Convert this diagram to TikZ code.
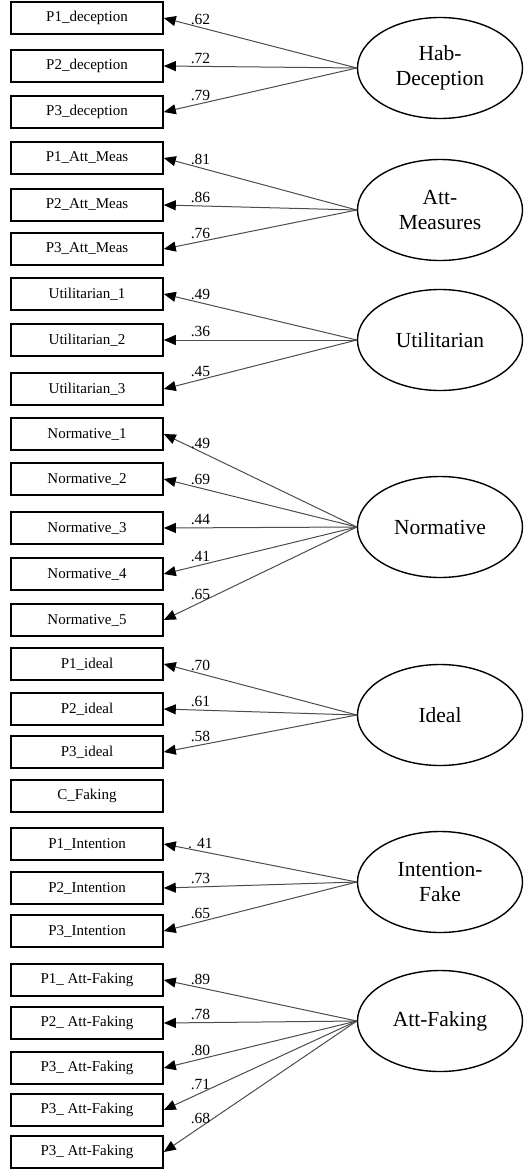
\documentclass[tikz,border=0pt]{standalone}
\usepackage{fontspec}
\setmainfont{Liberation Serif}
\usetikzlibrary{arrows.meta,shapes.geometric}

\begin{document}
\begin{tikzpicture}[x=1pt, y=-1pt,
        obs/.style={draw, line width=1.6pt, minimum width=152pt, minimum height=32pt, inner sep=0pt, font=\fontsize{15}{17}\selectfont},
        lat/.style={draw, ellipse, line width=1.4pt, minimum width=165pt, minimum height=101pt, inner sep=0pt, align=center, font=\fontsize{21.5}{25}\selectfont},
        load/.style={draw=black!70, line width=1pt, -{Triangle[length=12pt,width=10pt,color=black]}},
        lbl/.style={pos=0.81, above, inner sep=2.5pt, font=\fontsize{15.5}{17}\selectfont}]
        \useasboundingbox (0,0) rectangle (523,1169);
        % observed items
        \node[obs] (dec1) at (87,18) {P1\_deception};
        \node[obs] (dec2) at (87,66) {P2\_deception};
        \node[obs] (dec3) at (87,112) {P3\_deception};
        \node[obs] (meas1) at (87,158) {P1\_Att\_Meas};
        \node[obs] (meas2) at (87,205) {P2\_Att\_Meas};
        \node[obs] (meas3) at (87,249) {P3\_Att\_Meas};
        \node[obs] (util1) at (87,294) {Utilitarian\_1};
        \node[obs] (util2) at (87,340) {Utilitarian\_2};
        \node[obs] (util3) at (87,389) {Utilitarian\_3};
        \node[obs] (norm1) at (87,434) {Normative\_1};
        \node[obs] (norm2) at (87,479) {Normative\_2};
        \node[obs] (norm3) at (87,528) {Normative\_3};
        \node[obs] (norm4) at (87,574) {Normative\_4};
        \node[obs] (norm5) at (87,620) {Normative\_5};
        \node[obs] (ideal1) at (87,664) {P1\_ideal};
        \node[obs] (ideal2) at (87,709) {P2\_ideal};
        \node[obs] (ideal3) at (87,752) {P3\_ideal};
        \node[obs] (cfake) at (87,796) {C\_Faking};
        \node[obs] (int1) at (87,844) {P1\_Intention};
        \node[obs] (int2) at (87,888) {P2\_Intention};
        \node[obs] (int3) at (87,931) {P3\_Intention};
        \node[obs] (fak1) at (87,980) {P1\_ Att-Faking};
        \node[obs] (fak2) at (87,1023) {P2\_ Att-Faking};
        \node[obs] (fak3) at (87,1068) {P3\_ Att-Faking};
        \node[obs] (fak4) at (87,1110) {P3\_ Att-Faking};
        \node[obs] (fak5) at (87,1152) {P3\_ Att-Faking};
        % latent factors
        \node[lat] (hab) at (440,68) {Hab-\\Deception};
        \node[lat] (meas) at (440,210) {Att-\\Measures};
        \node[lat] (util) at (440,340) {Utilitarian};
        \node[lat] (norm) at (440,527) {Normative};
        \node[lat] (ideal) at (440,715) {Ideal};
        \node[lat] (intf) at (440,882) {Intention-\\Fake};
        \node[lat] (attf) at (440,1021) {Att-Faking};
        % loadings
        \draw[load] (hab.west) -- node[lbl] {.62} (dec1.east);
        \draw[load] (hab.west) -- node[lbl] {.72} (dec2.east);
        \draw[load] (hab.west) -- node[lbl] {.79} (dec3.east);
        \draw[load] (meas.west) -- node[lbl] {.81} (meas1.east);
        \draw[load] (meas.west) -- node[lbl] {.86} (meas2.east);
        \draw[load] (meas.west) -- node[lbl] {.76} (meas3.east);
        \draw[load] (util.west) -- node[lbl] {.49} (util1.east);
        \draw[load] (util.west) -- node[lbl] {.36} (util2.east);
        \draw[load] (util.west) -- node[lbl] {.45} (util3.east);
        \draw[load] (norm.west) -- node[lbl] {.49} (norm1.east);
        \draw[load] (norm.west) -- node[lbl] {.69} (norm2.east);
        \draw[load] (norm.west) -- node[lbl] {.44} (norm3.east);
        \draw[load] (norm.west) -- node[lbl] {.41} (norm4.east);
        \draw[load] (norm.west) -- node[lbl] {.65} (norm5.east);
        \draw[load] (ideal.west) -- node[lbl] {.70} (ideal1.east);
        \draw[load] (ideal.west) -- node[lbl] {.61} (ideal2.east);
        \draw[load] (ideal.west) -- node[lbl] {.58} (ideal3.east);
        \draw[load] (intf.west) -- node[lbl] {. 41} (int1.east);
        \draw[load] (intf.west) -- node[lbl] {.73} (int2.east);
        \draw[load] (intf.west) -- node[lbl] {.65} (int3.east);
        \draw[load] (attf.west) -- node[lbl] {.89} (fak1.east);
        \draw[load] (attf.west) -- node[lbl] {.78} (fak2.east);
        \draw[load] (attf.west) -- node[lbl] {.80} (fak3.east);
        \draw[load] (attf.west) -- node[lbl] {.71} (fak4.east);
        \draw[load] (attf.west) -- node[lbl] {.68} (fak5.east);
\end{tikzpicture}
\end{document}
